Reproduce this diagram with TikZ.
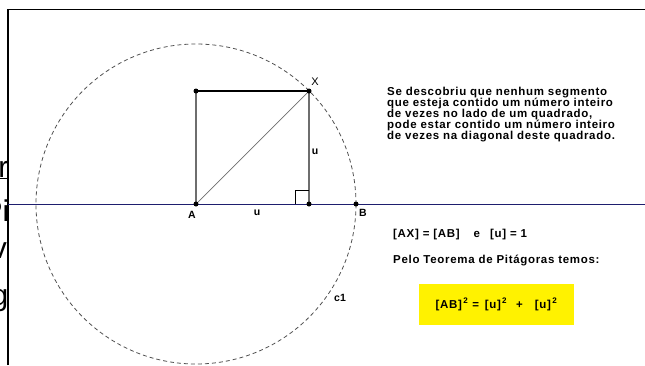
\documentclass[tikz,border=0pt]{standalone}
\usepackage{fontspec}
\setmainfont{Liberation Sans}
\newfontfamily\espacada{Liberation Sans}[LetterSpace=6]
\usepackage{tikz}
\usetikzlibrary{positioning}
\definecolor{eixo}{RGB}{30,30,110}
\definecolor{lado}{RGB}{110,110,110}
\definecolor{tracejado}{RGB}{80,80,80}

\begin{document}
\begin{tikzpicture}[x=1pt,y=-1pt,
	rotulo/.style={font=\fontsize{10.5}{10.5}\selectfont\bfseries, inner sep=0pt},
	texto/.style={font=\espacada\fontsize{11.5}{10.9}\selectfont\bfseries, align=left, inner sep=0pt},
	fundo/.style={font=\fontsize{30}{30}\selectfont, inner sep=0pt, anchor=base east}]
	\useasboundingbox (0,0) rectangle (645,365);

	% texto da janela de tras, cortado
	\begin{scope}
		\clip (0,0) rectangle (8,365);
		\node[fundo] (f1) at (8.5,177) {\underline{r}};
		\node[fundo] (f2) at (9.5,221) {Pi};
		\node[fundo] (f3) at (7,258) {v};
		\node[fundo] (f4) at (8.5,305) {g};
	\end{scope}

	% moldura
	\draw[line width=1.5pt] (8,365) -- (8,9.5) -- (645,9.5);

	% pontos
	\coordinate (A) at (196,204);
	\coordinate (C) at (196,91);
	\coordinate (X) at (309,91);
	\coordinate (D) at (309,204);
	\coordinate (B) at (356,204);
	\coordinate (E0) at (8,204);
	\coordinate (E1) at (645,204);

	\draw[eixo, line width=0.9pt] (E0) -- (E1);
	\draw[tracejado, line width=0.8pt, dash pattern=on 4pt off 3pt] (A) circle (160pt);

	\draw[lado, line width=1.4pt] (A) -- (C);
	\draw[line width=1.4pt] (C) -- (X);
	\draw[lado, line width=1.4pt] (X) -- (D);
	\draw[lado, line width=0.7pt] (A) -- (X);
	\draw[line width=0.7pt] (D) ++(-14,0) -- ++(0,-14) -- ++(14,0);

	\foreach \p in {A,C,X,D,B} {
		\fill (\p) circle (2.5pt);
	}

	\node[rotulo] (lA) at (192,215) {A};
	\node[rotulo] (lB) at (363,213) {B};
	\node[font=\fontsize{11}{11}\selectfont, inner sep=0pt] (lX) at (315,82) {X};
	\node[rotulo] (lu1) at (315,152) {u};
	\node[rotulo] (lu2) at (257,213) {u};
	\node[rotulo] (lc1) at (340,298) {c1};

	% textos
	\node[texto, anchor=north west] (obs) at (387,87) {Se descobriu que nenhum segmento\\
		que esteja contido um número inteiro\\
		de vezes no lado de um quadrado,\\
		pode estar contido um número inteiro\\
		de vezes na diagonal deste quadrado.};
	\node[texto, anchor=base west] (igual) at (393,237) {[AX] = [AB]\hspace{14pt}e\hspace{10pt}[u] = 1};
	\node[texto, anchor=base west] (pelo) at (393,263) {Pelo Teorema de Pitágoras temos:};
	\node[texto, fill=yellow, minimum width=155pt, minimum height=41pt, align=center] (formula) at (496.5,304.5)
		{[AB]\textsuperscript{\,2} = \,[u]\textsuperscript{\,2}\hspace{9pt}+\hspace{12pt}[u]\textsuperscript{\,2}};
\end{tikzpicture}
\end{document}
